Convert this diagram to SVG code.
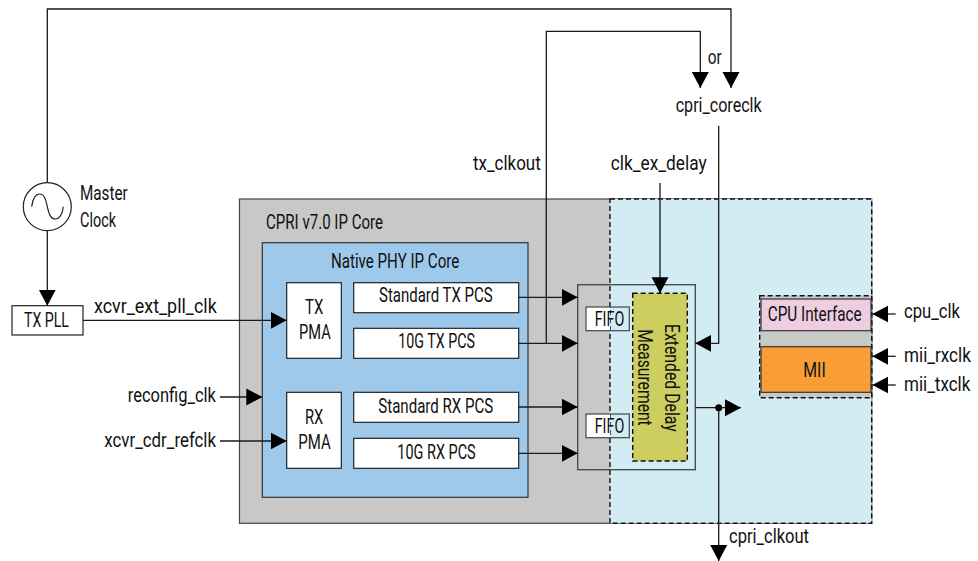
<svg xmlns="http://www.w3.org/2000/svg" width="978" height="561" viewBox="0 0 978 561">
<style>
text{font-family:"Roboto","Liberation Sans",sans-serif;font-size:21px;fill:#111}
.box{fill:#fff;stroke:#222;stroke-width:1.2}
.line{fill:none;stroke:#1a1a1a;stroke-width:1.3;marker-end:url(#arrow)}
.dash{stroke:#111;stroke-width:1.4;stroke-dasharray:5 3}
</style>
<defs>
<marker id="arrow" markerUnits="userSpaceOnUse" markerWidth="17" markerHeight="18" refX="16" refY="9" orient="auto">
<path d="M0 .5L16 9L0 17.5Z" fill="#000"/>
</marker>
</defs>
<rect width="978" height="561" fill="#fff"/>
<g id="cpri-core">
<rect x="239.5" y="199" width="632.2" height="324.3" fill="#c8c8c8" stroke="#444" stroke-width="1.2"/>
<text x="266" y="229.3" textLength="117" lengthAdjust="spacingAndGlyphs">CPRI v7.0 IP Core</text>
</g>
<g id="soft-logic-panel">
<rect x="610" y="199" width="261.7" height="324.3" fill="#d3ecf4" class="dash"/>
</g>
<g id="native-phy">
<rect x="262.3" y="242.7" width="265.7" height="254.6" fill="#9fc9eb" stroke="#333" stroke-width="1.2"/>
<text x="331" y="267.7" textLength="128.3" lengthAdjust="spacingAndGlyphs">Native PHY IP Core</text>
</g>
<g id="tx-pma">
<rect class="box" x="286.7" y="282.7" width="54.6" height="75.6"/>
<text x="305" y="314" textLength="18.3" lengthAdjust="spacingAndGlyphs">TX</text>
<text x="299" y="339.3" textLength="31.7" lengthAdjust="spacingAndGlyphs">PMA</text>
</g>
<g id="rx-pma">
<rect class="box" x="286.7" y="392.3" width="54.6" height="76"/>
<text x="305" y="424" textLength="18.3" lengthAdjust="spacingAndGlyphs">RX</text>
<text x="298.3" y="449" textLength="32.4" lengthAdjust="spacingAndGlyphs">PMA</text>
</g>
<g id="std-tx-pcs">
<rect class="box" x="353.7" y="282.7" width="165" height="30"/>
<text x="379" y="302.3" textLength="113.7" lengthAdjust="spacingAndGlyphs">Standard TX PCS</text>
</g>
<g id="g10-tx-pcs">
<rect class="box" x="353.7" y="328.3" width="165" height="30"/>
<text x="398.3" y="348.3" textLength="76.7" lengthAdjust="spacingAndGlyphs">10G TX PCS</text>
</g>
<g id="std-rx-pcs">
<rect class="box" x="353.7" y="392.3" width="165" height="30"/>
<text x="378.3" y="412.7" textLength="115" lengthAdjust="spacingAndGlyphs">Standard RX PCS</text>
</g>
<g id="g10-rx-pcs">
<rect class="box" x="353.7" y="438.3" width="165" height="30"/>
<text x="397.3" y="458.7" textLength="78.4" lengthAdjust="spacingAndGlyphs">10G RX PCS</text>
</g>
<g id="delay-wrapper">
<rect x="577.7" y="284.7" width="117.6" height="185" fill="none" stroke="#444" stroke-width="1.3"/>
</g>
<g id="fifo-top">
<rect x="586" y="307" width="24" height="23.7" fill="#fff"/>
<rect x="586" y="307" width="43.3" height="23.7" fill="none" stroke="#444" stroke-width="1.2"/>
<text x="594.7" y="325.7" textLength="29.6" lengthAdjust="spacingAndGlyphs">FIFO</text>
</g>
<g id="fifo-bottom">
<rect x="586" y="414" width="24" height="23.7" fill="#fff"/>
<rect x="586" y="414" width="43.3" height="23.7" fill="none" stroke="#444" stroke-width="1.2"/>
<text x="594.7" y="433.3" textLength="29.6" lengthAdjust="spacingAndGlyphs">FIFO</text>
</g>
<g id="extended-delay">
<rect x="632.7" y="293.3" width="54.6" height="167.7" fill="#cdcd60" class="dash"/>
<text transform="translate(665 324) rotate(90)" textLength="107.7" lengthAdjust="spacingAndGlyphs">Extended Delay</text>
<text transform="translate(638.3 329.3) rotate(90)" textLength="96.4" lengthAdjust="spacingAndGlyphs">Measurement</text>
</g>
<g id="cpu-mii-group">
<rect x="759.7" y="295.7" width="112" height="102" fill="#c8c8c8" class="dash"/>
</g>
<g id="cpu-interface">
<rect x="761" y="299" width="110" height="31.7" fill="#efcde0" stroke="#333" stroke-width="1.2"/>
<text x="767.7" y="321" textLength="94" lengthAdjust="spacingAndGlyphs">CPU Interface</text>
</g>
<g id="mii">
<rect x="761" y="346.7" width="110" height="45.6" fill="#f99d36" stroke="#333" stroke-width="1.2"/>
<text x="803.3" y="376.7" textLength="22.4" lengthAdjust="spacingAndGlyphs">MII</text>
</g>
<g id="tx-pll">
<rect class="box" x="12" y="305.7" width="71" height="29.3"/>
<text x="24" y="327.3" textLength="45" lengthAdjust="spacingAndGlyphs">TX PLL</text>
</g>
<g id="master-clock">
<circle cx="47.3" cy="206.7" r="24" fill="#fff" stroke="#222" stroke-width="1.2"/>
<path d="M31.7 206.7C32.5 198 36 194 39.5 194C45 194 46 201 47.3 206.7C48.6 212.4 50 219 55.5 219C59 219 62.5 215 63.3 206.7" fill="none" stroke="#222" stroke-width="1.2"/>
<text x="80" y="200" textLength="47.7" lengthAdjust="spacingAndGlyphs">Master</text>
<text x="80" y="226.7" textLength="36" lengthAdjust="spacingAndGlyphs">Clock</text>
</g>
<g id="connectors">
<path class="line" d="M47.3 182.7V9H731V88"/>
<path class="line" d="M546.3 343.3V31.3H700.3V88"/>
<path class="line" d="M47.3 230.7V305.7"/>
<path class="line" d="M83 320.3H286.7"/>
<path class="line" d="M220 397H262.3"/>
<path class="line" d="M220 441H286.7"/>
<path class="line" d="M518.7 297.3H577.7"/>
<path class="line" d="M518.7 343.3H577.7"/>
<path class="line" d="M518.7 407H577.7"/>
<path class="line" d="M518.7 453.3H577.7"/>
<path class="line" d="M660 183V293.3"/>
<path class="line" d="M718.7 125.7V343.3H695.3"/>
<path class="line" d="M695.3 407.7H741"/>
<path class="line" d="M718.7 407.7V561"/>
<circle cx="718.7" cy="407.7" r="3.5" fill="#000"/>
<path class="line" d="M895.7 314H872.3"/>
<path class="line" d="M895.7 356.3H872.3"/>
<path class="line" d="M895.7 385H872.3"/>
</g>
<g id="labels">
<text x="94" y="313.3" textLength="122.7" lengthAdjust="spacingAndGlyphs">xcvr_ext_pll_clk</text>
<text x="127.7" y="401.7" textLength="88.3" lengthAdjust="spacingAndGlyphs">reconfig_clk</text>
<text x="104.3" y="446.7" textLength="111.7" lengthAdjust="spacingAndGlyphs">xcvr_cdr_refclk</text>
<text x="473" y="170" textLength="67.7" lengthAdjust="spacingAndGlyphs">tx_clkout</text>
<text x="610.7" y="170" textLength="96" lengthAdjust="spacingAndGlyphs">clk_ex_delay</text>
<text x="707.7" y="64" textLength="14" lengthAdjust="spacingAndGlyphs">or</text>
<text x="675.7" y="112" textLength="86" lengthAdjust="spacingAndGlyphs">cpri_coreclk</text>
<text x="904" y="318.3" textLength="56" lengthAdjust="spacingAndGlyphs">cpu_clk</text>
<text transform="translate(904 362.3) scale(.814 1)">mii_rxclk</text>
<text transform="translate(904 390.7) scale(.81 1)">mii_txclk</text>
<text x="729" y="543.3" textLength="80" lengthAdjust="spacingAndGlyphs">cpri_clkout</text>
</g>
</svg>
